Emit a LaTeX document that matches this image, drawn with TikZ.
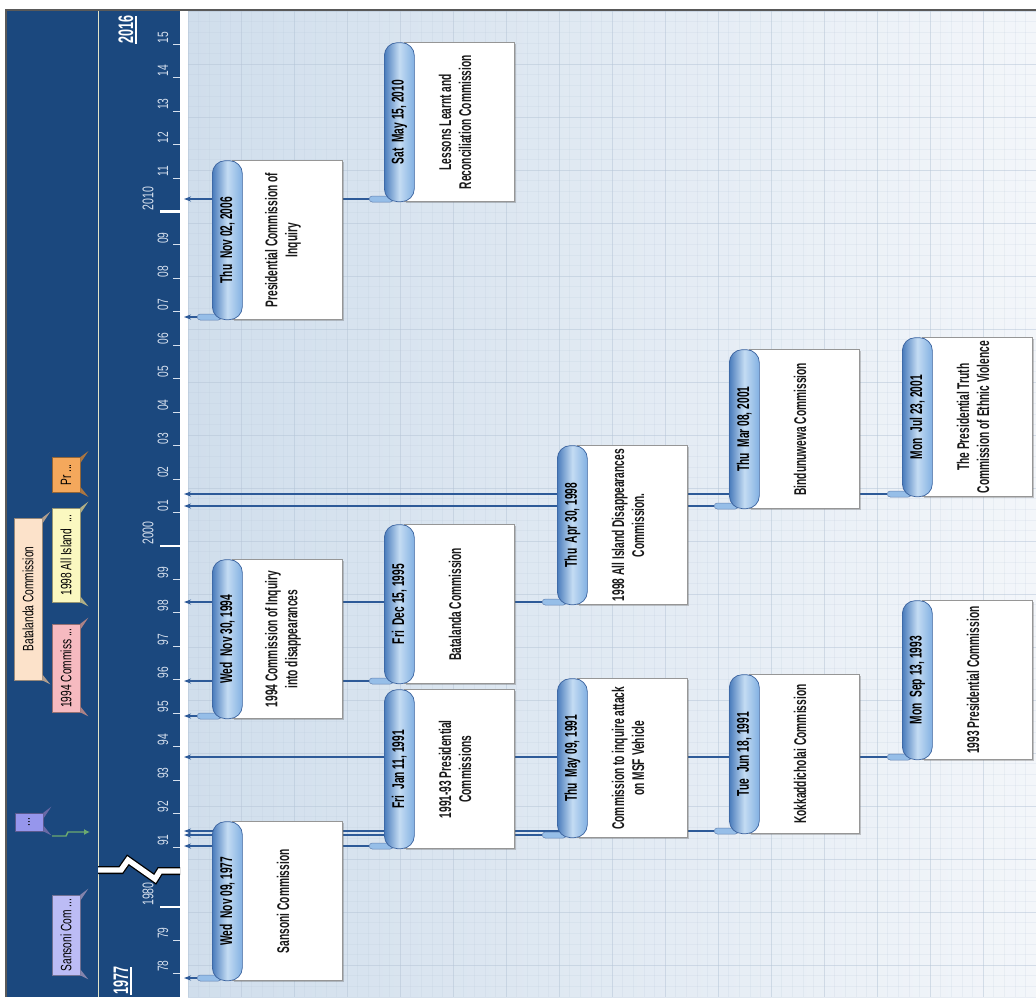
\documentclass[tikz,border=0pt]{standalone}
\usepackage{fontspec}
\usetikzlibrary{arrows.meta,shadows}
\newfontfamily\narrowfont[FakeStretch=0.6]{Liberation Sans}
\newfontfamily\scalefont[FakeStretch=0.68]{Liberation Sans}

\definecolor{panelblue}{RGB}{27,72,126}
\definecolor{gridA}{RGB}{208,222,236}
\definecolor{gridB}{RGB}{243,246,250}
\definecolor{gridline}{RGB}{180,196,214}
\definecolor{connblue}{RGB}{45,90,152}
\definecolor{capdark}{RGB}{74,124,188}
\definecolor{caplight}{RGB}{196,220,243}
\definecolor{capright}{RGB}{130,176,226}
\definecolor{capedge}{RGB}{58,98,158}
\definecolor{footblue}{RGB}{150,190,232}
\definecolor{boxedge}{RGB}{150,150,150}
\definecolor{axistext}{RGB}{214,224,238}
\definecolor{railline}{RGB}{226,228,200}
\definecolor{flaglav}{RGB}{188,188,245}
\definecolor{flagdot}{RGB}{150,150,236}
\definecolor{flagpink}{RGB}{246,186,192}
\definecolor{flagpeach}{RGB}{252,226,202}
\definecolor{flagyellow}{RGB}{250,248,192}
\definecolor{flagorange}{RGB}{244,168,92}
\definecolor{arrowgreen}{RGB}{108,170,112}

\pgfdeclarelayer{bg}
\pgfdeclarelayer{lines}
\pgfsetlayers{bg,lines,main}

% one commission: name, capsule left x, date y, date text, title text
\newcommand\evt[5]{%
  \coordinate (#1-ax) at (184,#3);
  \node[titlebox,anchor=south west] (#1-box) at (#2+20,#3+3) {};
  \node[foot,anchor=west] (#1-foot) at (#2-15,#3) {};
  \node[capsule,anchor=south west] (#1-cap) at (#2,#3+3) {};
  \node[datetext] (#1-date) at (#1-cap.center) {#4};
  \node[titletext] (#1-title) at ([xshift=51pt]#1-box.west) {#5};
  \begin{pgfonlayer}{lines}
    \draw[conn] (#1-foot.west) -- (#1-ax);
  \end{pgfonlayer}
}

% legend tab: name, centre x, centre y, width, height, colour, text
\newcommand\tab[7]{%
  \node[tabbox,fill=#6,draw=#6!60!black,minimum width=#4pt,minimum height=#5pt] (#1) at (#2,#3) {};
  \fill[#6!70!black] (#1.north east) -- ++(8,-6) -- ++(-8,12) -- cycle;
  \fill[#6!70!black] (#1.south east) -- ++(8,4) -- ++(-8,-10) -- cycle;
  \node[tabtext] (#1-t) at (#1.center) {#7};
}

\begin{document}
\begin{tikzpicture}[x=1pt,y=-1pt,
  conn/.style={draw=connblue,line width=1.3pt,-{Stealth[length=7pt,width=5pt]}},
  capsule/.style={draw=capedge,line width=0.7pt,rounded corners=13pt,
    left color=capdark,right color=capright,middle color=caplight,
    minimum width=30pt,minimum height=159pt,inner sep=0pt},
  foot/.style={draw=capedge!80,line width=0.5pt,fill=footblue,rounded corners=3pt,
    minimum width=24pt,minimum height=6pt,inner sep=0pt},
  titlebox/.style={draw=boxedge,line width=0.6pt,fill=white,
    minimum width=110pt,minimum height=159pt,inner sep=0pt,
    drop shadow={shadow xshift=1.2pt,shadow yshift=-1.5pt,opacity=0.35,fill=black!60}},
  datetext/.style={font=\narrowfont\bfseries\fontsize{17}{19}\selectfont,text=black,inner sep=0pt,rotate=90},
  titletext/.style={font=\narrowfont\bfseries\fontsize{17}{20}\selectfont,text=black!90,align=center,inner sep=0pt,rotate=90},
  tick/.style={draw=axistext,line width=0.9pt},
  bigtick/.style={draw=white,line width=2.8pt},
  axlabel/.style={font=\scalefont\fontsize{15}{17}\selectfont,text=axistext,inner sep=0pt,rotate=90,anchor=west},
  declabel/.style={font=\scalefont\fontsize{15.5}{17}\selectfont,text=axistext,inner sep=0pt,rotate=90,anchor=west},
  endlabel/.style={font=\narrowfont\bfseries\fontsize{21}{23}\selectfont,text=white,inner sep=0pt,rotate=90,anchor=west},
  tabbox/.style={line width=0.6pt,inner sep=0pt},
  tabtext/.style={font=\scalefont\fontsize{15}{17}\selectfont,text=black,inner sep=0pt,rotate=90},
]
\useasboundingbox (0,0) rectangle (1036,997);

\begin{pgfonlayer}{bg}
  \fill[white] (0,0) rectangle (1036,997);
  % chart area with grid
  \shade[left color=gridA,right color=gridB] (188,11) rectangle (1036,997);
  \foreach \i in {0,...,80} {
    \draw[gridline,opacity=0.16,line width=0.5pt] (188+\i*10.6,11) -- (188+\i*10.6,997);
  }
  \foreach \i in {0,...,94} {
    \draw[gridline,opacity=0.16,line width=0.5pt] (188,11+\i*10.6) -- (1036,11+\i*10.6);
  }
  \foreach \i in {0,...,16} {
    \draw[gridline,opacity=0.4,line width=0.9pt] (188+\i*53,11) -- (188+\i*53,997);
  }
  \foreach \i in {0,...,18} {
    \draw[gridline,opacity=0.4,line width=0.9pt] (188,11+\i*53) -- (1036,11+\i*53);
  }
  % time axis panel
  \fill[panelblue] (7,11) rectangle (180,997);
  \draw[railline,line width=1pt] (98,11) -- (98,997);
  % frame
  \draw[black!65,line width=1.6pt] (6,997) -- (6,10) -- (1036,10);
\end{pgfonlayer}

% year ticks 1991-2015
\foreach \k/\lab in {0/91,1/92,2/93,3/94,4/95,5/96,6/97,7/98,8/99,10/01,11/02,12/03,13/04,14/05,15/06,16/07,17/08,18/09,20/11,21/12,22/13,23/14,24/15} {
  \draw[tick] (173,847-\k*33.45) -- (180,847-\k*33.45);
  \node[axlabel] (yl\k) at (163,846-\k*33.45) {\lab};
}
\draw[bigtick] (160,546) -- (180,546);
\node[declabel] (yl2000) at (148,545) {2000};
\draw[bigtick] (160,211.5) -- (180,211.5);
\node[declabel] (yl2010) at (148,210.5) {2010};
% years before the break
\draw[tick] (173,973) -- (180,973);
\node[axlabel] (yl78) at (163,972) {78};
\draw[tick] (173,940) -- (180,940);
\node[axlabel] (yl79) at (163,939) {79};
\draw[bigtick] (160,907) -- (180,907);
\node[declabel] (yl1980) at (148,906) {1980};
% range ends
\node[endlabel] (yend) at (126,44) {2016};
\draw[white,line width=1.3pt] (136,16) -- (136,44);
\node[endlabel] (ystart) at (121,995) {1977};
\draw[white,line width=1.3pt] (131,967) -- (131,995);
% axis break
\draw[black,line width=8pt,line join=miter] (98,870) -- (121,870) -- (128,860) -- (155,879) -- (160,871) -- (180,871);
\draw[white,line width=5.4pt,line join=miter] (98,870) -- (121,870) -- (128,860) -- (155,879) -- (160,871) -- (180,871);

% legend tabs
\tab{tabSansoni}{66}{935}{28}{80}{flaglav}{Sansoni Com ...}
\tab{tabDots}{29}{822}{28}{18}{flagdot}{...}
\tab{tabInq}{66}{668}{28}{88}{flagpink}{1994 Commiss ...}
\tab{tabBat}{28}{599}{28}{162}{flagpeach}{Batalanda Commission}
\tab{tabAI}{66}{555}{28}{94}{flagyellow}{1998 All Island\ \ ...}
\tab{tabPr}{66}{475}{28}{35}{flagorange}{Pr ...}
\coordinate (garrowA) at (52,836);
\coordinate (garrowB) at (90,832);
\draw[arrowgreen,line width=1.4pt,-{Latex[length=6pt,width=6pt]}] (garrowA) -- ++(14,0) -- ++(2,-4) -- (garrowB);

% commissions
\evt{sansoni}{212}{978}{Wed\ \ Nov 09, 1977}{Sansoni Commission}
\evt{inq94}{212}{716}{Wed\ \ Nov 30, 1994}{1994 Commission of Inquiry\\into disappearances}
\evt{pci06}{212}{317}{Thu\ \ Nov 02, 2006}{Presidential Commission of\\Inquiry}
\evt{pc91}{384}{846}{Fri\ \ Jan 11, 1991}{1991-93 Presidential\\Commissions}
\evt{bat95}{384}{681}{Fri\ \ Dec 15, 1995}{Batalanda Commission}
\evt{llrc10}{384}{199}{Sat\ \ May 15, 2010}{Lessons Learnt and\\Reconciliation Commission}
\evt{msf91}{557}{835}{Thu\ \ May 09, 1991}{Commission to inquire attack\\on MSF Vehicle}
\evt{ai98}{557}{602}{Thu\ \ Apr 30, 1998}{1998 All Island Disappearances\\Commission.}
\evt{kok91}{729}{831}{Tue\ \ Jun 18, 1991}{Kokkaddicholai Commission}
\evt{bin01}{729}{506}{Thu\ \ Mar 08, 2001}{Bindunuwewa Commission}
\evt{pc93}{902}{757}{Mon\ \ Sep 13, 1993}{1993 Presidential Commission}
\evt{ptc01}{902}{494}{Mon\ \ Jul 23, 2001}{The Presidential Truth\\Commission of Ethnic Violence}
\end{tikzpicture}
\end{document}
